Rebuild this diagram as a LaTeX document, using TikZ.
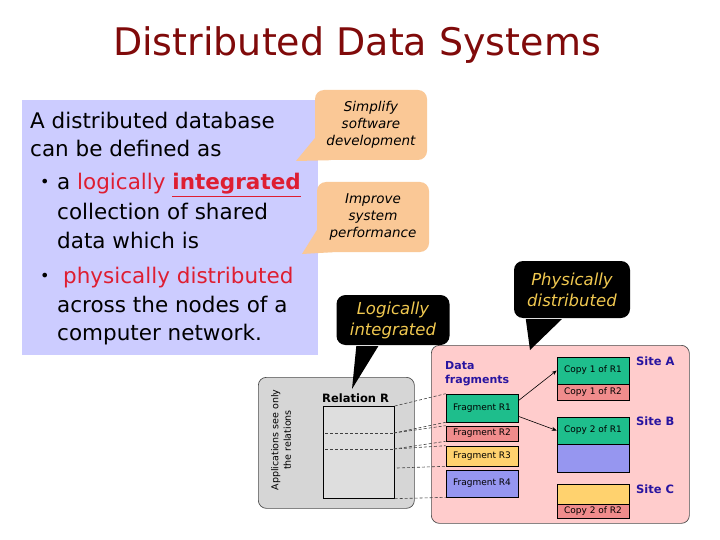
\documentclass[tikz,border=0pt]{standalone}
\usepackage{fontspec}
\setmainfont{DejaVu Sans}
\usetikzlibrary{arrows.meta,calc}
\definecolor{bluebox}{RGB}{204,204,255}
\definecolor{titlered}{RGB}{128,10,10}
\definecolor{hired}{RGB}{222,30,50}
\definecolor{corange}{RGB}{250,200,150}
\definecolor{cyellow}{RGB}{240,200,80}
\definecolor{gpanel}{RGB}{214,214,214}
\definecolor{ginner}{RGB}{222,222,222}
\definecolor{ppanel}{RGB}{255,204,204}
\definecolor{fgreen}{RGB}{30,190,140}
\definecolor{fred}{RGB}{240,140,140}
\definecolor{fyellow}{RGB}{255,210,110}
\definecolor{fblue}{RGB}{150,150,240}
\definecolor{dblue}{RGB}{40,20,160}
\begin{document}
\begin{tikzpicture}[x=1pt,y=-1pt,
  bodytxt/.style={anchor=base west,inner sep=0pt,font=\fontsize{21.5}{22}\selectfont},
  orangecall/.style={fill=corange,rounded corners=9pt,align=center,inner sep=2pt,
    minimum width=112pt,minimum height=70pt,font=\fontsize{13.5}{17}\selectfont\itshape},
  blackcall/.style={fill=black,text=cyellow,rounded corners=9pt,align=center,inner sep=2pt,
    font=\fontsize{16.5}{21}\selectfont\itshape},
  frag/.style={draw=black,line width=0.6pt,minimum width=72pt,inner sep=0pt,font=\fontsize{9}{9}\selectfont},
  sitelbl/.style={anchor=north west,inner sep=0pt,text=dblue,font=\fontsize{11.5}{11.5}\selectfont\bfseries},
  dl/.style={densely dashed,line width=0.6pt,black!75}
]
\useasboundingbox (0,0) rectangle (720,540);
\fill[white] (0,0) rectangle (720,540);

% title
\node[text=titlered,font=\fontsize{38}{42}\selectfont] (title) at (357,45) {Distributed Data Systems};

% blue definition box
\node[fill=bluebox,anchor=north west,minimum width=296pt,minimum height=255pt,inner sep=0pt] (info) at (22,100) {};
\node[bodytxt] (l1) at (30,129) {A distributed database};
\node[bodytxt] (l2) at (30,157) {can be defined as};
\node[bodytxt,font=\fontsize{16}{16}\selectfont] (b1) at (40,188) {\textbullet};
\node[bodytxt] (l3) at (57,190) {a \textcolor{hired}{logically \underline{\textbf{integrated}}}};
\node[bodytxt] (l4) at (57,219) {collection of shared};
\node[bodytxt] (l5) at (57,248) {data which is};
\node[bodytxt,font=\fontsize{16}{16}\selectfont] (b2) at (40,281) {\textbullet};
\node[bodytxt] (l6) at (63,283) {\textcolor{hired}{physically distributed}};
\node[bodytxt] (l7) at (57,312) {across the nodes of a};
\node[bodytxt] (l8) at (57,340) {computer network.};

% orange callouts
\node[orangecall] (c1) at (371,125) {Simplify\\software\\development};
\coordinate (t1) at (296,161);
\fill[corange] ($(c1.south west)+(0,-22)$) -- (t1) -- ($(c1.south west)+(16,0)$) -- cycle;
\node[orangecall] (c2) at (373,217) {Improve\\system\\performance};
\coordinate (t2) at (302,254);
\fill[corange] ($(c2.south west)+(0,-22)$) -- (t2) -- ($(c2.south west)+(16,0)$) -- cycle;

% relation panel
\node[draw=black!70,fill=gpanel,rounded corners=8pt,line width=0.7pt,anchor=north west,
  minimum width=156pt,minimum height=131pt,inner sep=0pt] (rel) at (258,377) {};
\node[draw=black,fill=ginner,line width=0.7pt,anchor=north west,
  minimum width=71pt,minimum height=92pt,inner sep=0pt] (inner) at (323,406) {};
\node[anchor=base west,inner sep=0pt,font=\fontsize{11.5}{12}\selectfont\bfseries] (relR) at (322,402) {Relation R};
\node[rotate=90,align=center,font=\fontsize{9.5}{12.5}\selectfont] (apps) at (281,440) {Applications see only\\the relations};
\coordinate (d1) at (394,433);
\coordinate (d2) at (394,449);
\coordinate (d3) at (397,468);
\draw[dl] (325,433) -- (d1);
\draw[dl] (325,449) -- (d2);

% fragments panel
\node[draw=black!70,fill=ppanel,rounded corners=8pt,line width=0.7pt,anchor=north west,
  minimum width=258pt,minimum height=178pt,inner sep=0pt] (frp) at (431,345) {};
\node[anchor=north west,inner sep=0pt,align=left,text=dblue,font=\fontsize{11}{14}\selectfont\bfseries] (df) at (445,361) {Data\\fragments};
\node[frag,fill=fgreen,minimum height=28pt] (fr1) at (482,408) {Fragment R1};
\node[frag,fill=fred,minimum height=15pt] (fr2) at (482,433.5) {Fragment R2};
\node[frag,fill=fyellow,minimum height=20pt] (fr3) at (482,456) {Fragment R3};
\node[frag,fill=fblue,minimum height=27pt] (fr4) at (482,483.5) {Fragment R4};

\node[frag,fill=fgreen,minimum height=27pt] (ca1) at (593,370.5) {Copy 1 of R1};
\node[frag,fill=fred,minimum height=16pt] (ca2) at (593,392) {Copy 1 of R2};
\node[frag,fill=fgreen,minimum height=27pt] (cb1) at (593,430.5) {Copy 2 of R1};
\node[frag,fill=fblue,minimum height=28pt] (cb2) at (593,458) {};
\node[frag,fill=fyellow,minimum height=20pt] (cc1) at (593,494) {};
\node[frag,fill=fred,minimum height=14pt] (cc2) at (593,511) {Copy 2 of R2};
\node[sitelbl] (sa) at (636,357) {Site A};
\node[sitelbl] (sb) at (636,417) {Site B};
\node[sitelbl] (sc) at (636,485) {Site C};

\draw[-{Stealth[length=5pt,width=4pt]},line width=0.6pt] ($(fr1.north east)+(0,7)$) -- (ca1.west);
\draw[-{Stealth[length=5pt,width=4pt]},line width=0.6pt] ($(fr1.south east)+(0,-6)$) -- (cb1.west);

% dashed links relation -> fragments
\draw[dl] (inner.north east) -- (fr1.north west);
\draw[dl] (d1) -- (fr1.south west);
\draw[dl] (d1) -- (fr2.north west);
\draw[dl] (d2) -- (fr2.south west);
\draw[dl] (d2) -- (fr3.north west);
\draw[dl] (d3) -- (fr3.south west);
\draw[dl] (inner.south east) -- (fr4.south west);

% black callouts
\node[blackcall,minimum width=113pt,minimum height=50pt] (c3) at (393,320) {Logically\\integrated};
\coordinate (t3) at (352,389);
\fill[black] ($(c3.south west)+(20,1)$) -- (t3) -- ($(c3.south west)+(42,1)$) -- cycle;
\node[blackcall,minimum width=116pt,minimum height=57pt] (c4) at (572,289.5) {Physically\\distributed};
\coordinate (t4) at (530,350);
\fill[black] ($(c4.south west)+(12,1)$) -- (t4) -- ($(c4.south west)+(48,1)$) -- cycle;
\end{tikzpicture}
\end{document}
